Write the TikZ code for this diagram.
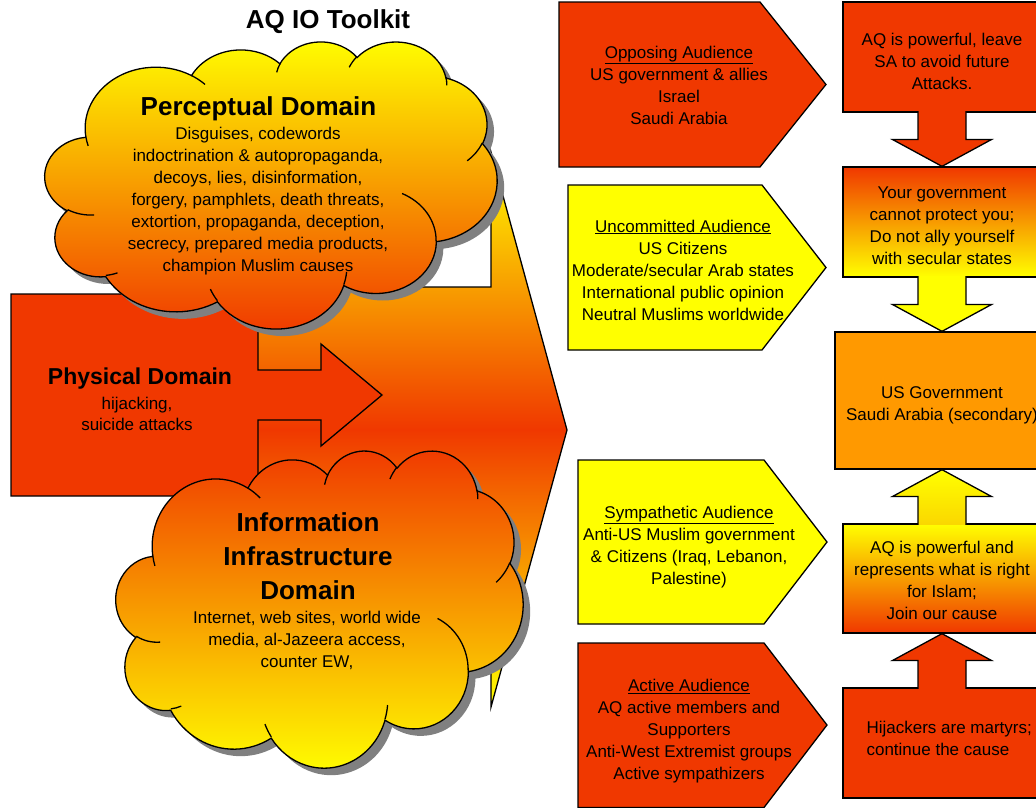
\documentclass[tikz,border=0pt]{standalone}
\usepackage{fontspec}
\setmainfont{Liberation Sans}
\usetikzlibrary{calc}

\definecolor{aqred}{RGB}{240,56,0}
\definecolor{aqorange}{RGB}{255,153,0}
\definecolor{aqyellow}{RGB}{255,255,0}
\definecolor{aqgold}{RGB}{250,215,0}
\definecolor{aqshadow}{RGB}{128,128,128}

% Cloud arcs are specified by visual start angle and sweep on an ellipse;
% TikZ arcs take parametric angles, so convert them once here.
\newcommand\cloudangles[5]{%
  \pgfmathsetmacro\cldva{#4}%
  \pgfmathsetmacro\cldvb{(#4)+(#5)}%
  \pgfmathsetmacro\cldpa{atan2((#2)*sin(\cldva),(#3)*cos(\cldva))}%
  \pgfmathsetmacro\cldpb{atan2((#2)*sin(\cldvb),(#3)*cos(\cldvb))}%
  \pgfmathsetmacro\cldpb{(\cldpb)+360*round(((\cldpa)+(#5)-(\cldpb))/360)}%
  \expandafter\xdef\csname cld#1s\endcsname{\cldpa}%
  \expandafter\xdef\csname cld#1e\endcsname{\cldpb}%
}
% outline lobes
\cloudangles{A}{67.53}{91.90}{-190.4875}{123.7805}
\cloudangles{B}{53.33}{72.67}{-144.1024}{89.9452}
\cloudangles{C}{43.65}{59.45}{-145.8079}{99.7230}
\cloudangles{D}{48.57}{65.95}{-130.9861}{117.2417}
\cloudangles{E}{53.33}{72.73}{-78.7089}{109.0269}
\cloudangles{F}{67.75}{92.20}{-46.2673}{130.2690}
\cloudangles{G}{57.85}{78.67}{0.6250}{114.0333}
\cloudangles{H}{67.52}{92.15}{22.4516}{115.1726}
\cloudangles{I}{77.20}{105.43}{66.2426}{75.7110}
\cloudangles{J}{43.60}{59.18}{-274.9421}{146.7356}
\cloudangles{K}{43.45}{59.45}{-246.8285}{152.5189}
% inner creases
\cloudangles{a}{43.45}{59.45}{86.7420}{26.4295}
\cloudangles{b}{43.60}{59.18}{73.6105}{11.4475}
\cloudangles{c}{67.52}{92.15}{137.6242}{14.0811}
\cloudangles{d}{67.52}{92.15}{6.4533}{15.9984}
\cloudangles{e}{57.85}{78.67}{-70.2924}{70.9174}
\cloudangles{f}{53.33}{72.73}{30.3180}{27.7515}
\cloudangles{g}{48.57}{65.95}{-13.7443}{14.8589}
\cloudangles{h}{48.57}{65.95}{-149.1815}{18.1954}
\cloudangles{i}{43.65}{59.45}{-163.4943}{17.6864}
\cloudangles{j}{67.53}{91.90}{-66.7070}{12.3194}
\cloudangles{k}{67.53}{91.90}{157.6544}{11.8582}

% cloud in a 432 x 432 box
\newcommand\cloudoutline{(39,143.7)
 arc[start angle=\cldAs,end angle=\cldAe,x radius=67.53,y radius=91.90]
 arc[start angle=\cldBs,end angle=\cldBe,x radius=53.33,y radius=72.67]
 arc[start angle=\cldCs,end angle=\cldCe,x radius=43.65,y radius=59.45]
 arc[start angle=\cldDs,end angle=\cldDe,x radius=48.57,y radius=65.95]
 arc[start angle=\cldEs,end angle=\cldEe,x radius=53.33,y radius=72.73]
 arc[start angle=\cldFs,end angle=\cldFe,x radius=67.75,y radius=92.20]
 arc[start angle=\cldGs,end angle=\cldGe,x radius=57.85,y radius=78.67]
 arc[start angle=\cldHs,end angle=\cldHe,x radius=67.52,y radius=92.15]
 arc[start angle=\cldIs,end angle=\cldIe,x radius=77.20,y radius=105.43]
 arc[start angle=\cldJs,end angle=\cldJe,x radius=43.60,y radius=59.18]
 arc[start angle=\cldKs,end angle=\cldKe,x radius=43.45,y radius=59.45]
 -- cycle}
\newcommand\cloudinner{
 (46.93,261.77) arc[start angle=\cldas,end angle=\cldae,x radius=43.45,y radius=59.45]
 (69.28,348.99) arc[start angle=\cldbs,end angle=\cldbe,x radius=43.60,y radius=59.18]
 (164.78,390.90) arc[start angle=\cldcs,end angle=\cldce,x radius=67.52,y radius=92.15]
 (288.27,347.51) arc[start angle=\cldds,end angle=\cldde,x radius=67.52,y radius=92.15]
 (341.29,229.54) arc[start angle=\cldes,end angle=\cldee,x radius=57.85,y radius=78.67]
 (417.98,153.54) arc[start angle=\cldfs,end angle=\cldfe,x radius=53.33,y radius=72.73]
 (383.24,54.26) arc[start angle=\cldgs,end angle=\cldge,x radius=48.57,y radius=65.95]
 (290.78,39.52) arc[start angle=\cldhs,end angle=\cldhe,x radius=48.57,y radius=65.95]
 (221.41,47.20) arc[start angle=\cldis,end angle=\cldie,x radius=43.65,y radius=59.45]
 (140.00,51.92) arc[start angle=\cldjs,end angle=\cldje,x radius=67.53,y radius=91.90]
 (41.27,157.89) arc[start angle=\cldks,end angle=\cldke,x radius=67.53,y radius=91.90]}

% block arrow from the edge of one box to the edge of the next
\newcommand\aqblockarrow[4]{%
  \path[outline,#3] ($(#1)+(-24,#4)$) -- ($(#1)!.5!(#2)+(-24,0)$)
    -- ($(#1)!.5!(#2)+(-49.5,0)$) -- (#2) -- ($(#1)!.5!(#2)+(49.5,0)$)
    -- ($(#1)!.5!(#2)+(24,0)$) -- ($(#1)+(24,#4)$);}

\begin{document}
\begin{tikzpicture}[x=1pt,y=-1pt,
  outline/.style={draw=black,line width=1.3pt,line join=miter},
  txt/.style={font=\fontsize{17}{22}\selectfont,align=center,inner sep=0pt},
  bigtxt/.style={font=\fontsize{26}{34}\selectfont\bfseries,align=center,inner sep=0pt},
  msgbox/.style={outline,minimum width=198pt,minimum height=110pt,inner sep=0pt},
  cloudline/.style={draw=black,line width=1.3pt}]
\useasboundingbox (0,0) rectangle (1036,807);
\clip (0,0) rectangle (1036,807);

% large arrow carrying the toolkit towards the audiences
\path[outline,top color=aqyellow,bottom color=aqyellow,middle color=aqred]
  (230,287) -- (491,287) -- (491,152) -- (567,430) -- (491,707) -- (491,573)
  -- (230,573) -- cycle;

% physical domain: box with an arrow out of its right side
\path[outline,fill=aqred] (11,294) -- (258,294) -- (258,370) -- (321,370)
  -- (321,344) -- (382,395) -- (321,446) -- (321,420) -- (258,420)
  -- (258,496) -- (11,496) -- cycle;
\node[txt,font=\fontsize{23}{28}\selectfont\bfseries] (physhead) at (140,379) {Physical Domain};
\node[txt,font=\fontsize{17}{21}\selectfont] (physbody) at (137,414) {hijacking,\\suicide attacks};

% perceptual domain cloud
\begin{scope}[shift={(45,41)},x=1.0463pt,y=-0.66435pt]
  \fill[aqshadow,xshift=7pt,yshift=-7pt] \cloudoutline;
  \path[cloudline,top color=aqyellow,bottom color=aqred] \cloudoutline;
  \path[cloudline] \cloudinner;
\end{scope}
\node[bigtxt] (perchead) at (258.5,108.5) {Perceptual Domain};
\node[txt] (percbody) at (258,201) {Disguises, codewords\\indoctrination \& autopropaganda,\\decoys, lies, disinformation,\\forgery, pamphlets, death threats,\\extortion, propaganda, deception,\\secrecy, prepared media products,\\champion Muslim causes};

% information infrastructure domain cloud
\begin{scope}[shift={(116,450)},x=0.94213pt,y=-0.73380pt]
  \fill[aqshadow,xshift=7pt,yshift=-7pt] \cloudoutline;
  \path[cloudline,top color=aqred,bottom color=aqyellow] \cloudoutline;
  \path[cloudline] \cloudinner;
\end{scope}
\node[bigtxt] (infohead) at (308,556) {Information\\Infrastructure\\Domain};
\node[txt] (infobody) at (307,640) {Internet, web sites, world wide\\media, al-Jazeera access,\\counter EW,};

\node[bigtxt] (title) at (328,22) {AQ IO Toolkit};

% audiences
\path[outline,fill=aqred] (559,2) -- (760,2) -- (826,84.5) -- (760,167) -- (559,167) -- cycle;
\node[txt] (opposing) at (679,85) {\underline{Opposing Audience}\\US government \& allies\\Israel\\Saudi Arabia};
\path[outline,fill=aqyellow] (568,185) -- (762,185) -- (826,267.5) -- (762,350) -- (568,350) -- cycle;
\node[txt] (uncommitted) at (683,270) {\underline{Uncommitted Audience}\\US Citizens\\Moderate/secular Arab states\\International public opinion\\Neutral Muslims worldwide};
\path[outline,fill=aqyellow] (578,460) -- (764,460) -- (827,542) -- (764,624) -- (578,624) -- cycle;
\node[txt] (sympathetic) at (689,547) {\underline{Sympathetic Audience}\\Anti-US Muslim government\\\& Citizens (Iraq, Lebanon,\\Palestine)};
\path[outline,fill=aqred] (578,643) -- (764,643) -- (827,725) -- (764,807.5) -- (578,807.5) -- cycle;
\node[txt] (active) at (689,731) {\underline{Active Audience}\\AQ active members and\\Supporters\\Anti-West Extremist groups\\Active sympathizers};

% messages
\node[msgbox,fill=aqred] (msgA) at (942,57) {};
\node[msgbox,top color=aqred,bottom color=aqyellow] (msgB) at (942,222) {};
\node[msgbox,fill=aqorange,minimum width=214pt,minimum height=137pt] (msgC) at (942,400.5) {};
\node[msgbox,top color=aqyellow,bottom color=aqred,minimum height=109pt] (msgD) at (942,578.5) {};
\node[msgbox,fill=aqred] (msgE) at (942,743) {};

\node[txt] (msgAtext) at ($(msgA)+(0,4)$) {AQ is powerful, leave\\SA to avoid future\\Attacks.};
\node[txt] (msgBtext) at ($(msgB)+(0,4)$) {Your government\\cannot protect you;\\Do not ally yourself\\with secular states};
\node[txt] (msgCtext) at ($(msgC)+(0,4.5)$) {US Government\\Saudi Arabia (secondary)};
\node[txt] (msgDtext) at ($(msgD)+(0,2)$) {AQ is powerful and\\represents what is right\\for Islam;\\Join our cause};
\node[txt,align=left,anchor=west] (msgEtext) at ($(msgE.west)+(24,-4.5)$) {Hijackers are martyrs;\\continue the cause};

\aqblockarrow{msgA.south}{msgB.north}{fill=aqred}{-1.5}
\aqblockarrow{msgB.south}{msgC.north}{fill=aqyellow}{-1.5}
\aqblockarrow{msgD.north}{msgC.south}{top color=aqyellow,bottom color=aqgold}{1.5}
\aqblockarrow{msgE.north}{msgD.south}{fill=aqred}{1.5}
\end{tikzpicture}
\end{document}
